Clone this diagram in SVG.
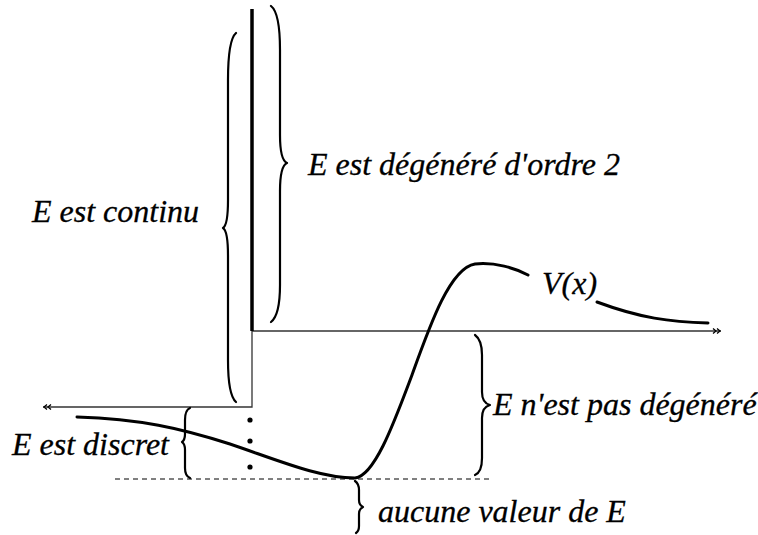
<svg xmlns="http://www.w3.org/2000/svg" width="758" height="535" viewBox="0 0 758 535">
<style>
.axis{stroke:#333;stroke-width:1.3;fill:none}
.brace{stroke:#000;stroke-width:2.2;fill:none;stroke-linejoin:round;stroke-linecap:round}
.curve{stroke:#000;stroke-width:3;fill:none;stroke-linecap:round}
.dash{stroke:#000;stroke-width:1;stroke-dasharray:5,4;fill:none}
</style>
<defs>
<marker id="dbl" markerWidth="12" markerHeight="8" refX="10" refY="4" orient="auto" markerUnits="userSpaceOnUse">
<path d="M2,1.5 L5,4 L2,6.5 M6,1.5 L9,4 L6,6.5" stroke="#000" stroke-width="1.3" fill="none"/>
</marker>
</defs>
<rect width="758" height="535" fill="#fff"/>
<g id="connectors">
<line class="axis" x1="252" y1="331" x2="721" y2="331" marker-end="url(#dbl)"/>
<polyline class="axis" points="252,331 252,407 43,407" marker-end="url(#dbl)"/>
<line x1="252" y1="9" x2="252" y2="331" stroke="#000" stroke-width="3.5"/>
<line class="dash" x1="115" y1="479" x2="490" y2="479"/>
</g>
<g id="potential">
<path class="curve" d="M77,417 C140,419 180,428 230,444 C280,461 320,478 355,478 C375,476 395,420 412,375 C430,325 450,268 475,264 C495,262 515,268 528,275"/>
<path class="curve" d="M597,302 C640,318 670,322 708,323"/>
<text x="542" y="294" style="font-family:'Liberation Serif';font-style:italic;font-size:32px;stroke:#000;stroke-width:0.3">V(x)</text>
</g>
<g id="dots">
<circle cx="250" cy="420" r="2.6"/>
<circle cx="250" cy="441" r="2.6"/>
<circle cx="250" cy="467" r="2.6"/>
</g>
<g id="continu">
<path class="brace" d="M236,33 Q228,40 228,80 L228,200 Q228,225 223,228 Q228,231 228,256 L228,360 Q228,395 236,402"/>
<text x="32" y="222" style="font-family:'Liberation Serif';font-style:italic;font-size:32px;stroke:#000;stroke-width:0.3">E est continu</text>
</g>
<g id="degenere">
<path class="brace" d="M271,6 Q280,13 280,50 L280,135 Q280,160 287,163 Q280,166 280,191 L280,285 Q280,315 271,322"/>
<text x="308" y="175" style="font-family:'Liberation Serif';font-style:italic;font-size:32px;stroke:#000;stroke-width:0.3">E est dégénéré d'ordre 2</text>
</g>
<g id="discret">
<path class="brace" d="M190,408 Q185,410 185,420 L185,434 Q185,440 182,442 Q185,444 185,450 L185,468 Q185,476 190,478"/>
<text x="12" y="455" style="font-family:'Liberation Serif';font-style:italic;font-size:32px;stroke:#000;stroke-width:0.3">E est discret</text>
</g>
<g id="non-degenere">
<path class="brace" d="M475,335 Q482,340 482,355 L482,392 Q482,403 490,405 Q482,407 482,418 L482,458 Q482,472 475,475"/>
<text x="493" y="415" style="font-family:'Liberation Serif';font-style:italic;font-size:32px;stroke:#000;stroke-width:0.3">E n'est pas dégénéré</text>
</g>
<g id="aucune">
<path class="brace" d="M355,481 Q359,484 359,490 L359,500 Q359,505 363,507 Q359,509 359,514 L359,526 Q359,531 356,533"/>
<text x="378" y="522" style="font-family:'Liberation Serif';font-style:italic;font-size:32px;stroke:#000;stroke-width:0.3">aucune valeur de E</text>
</g>
</svg>
